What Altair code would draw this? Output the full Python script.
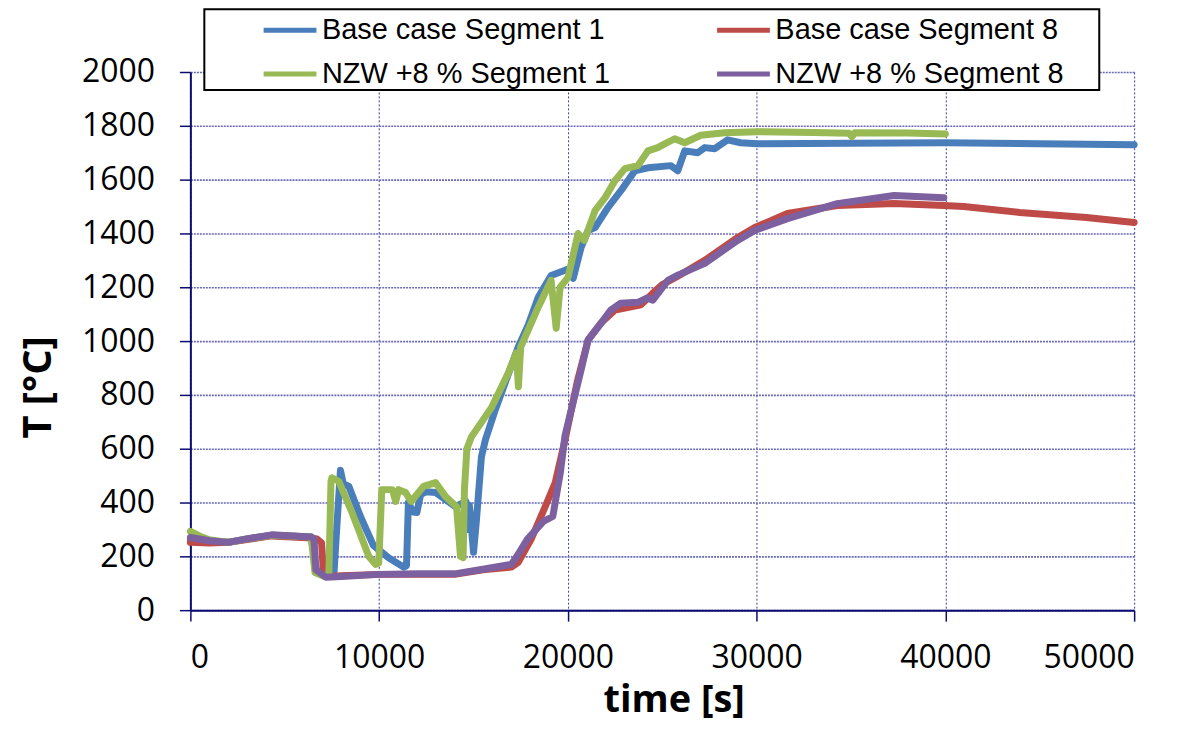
import altair as alt
import pandas as pd

series_names = ["Base case Segment 1", "Base case Segment 8",
                "NZW +8 % Segment 1", "NZW +8 % Segment 8"]
series_colors = ["#4a7ebb", "#be4b48", "#98b954", "#7d60a0"]

x_ticks = [0, 10000, 20000, 30000, 40000, 50000]
y_ticks = [0, 200, 400, 600, 800, 1000, 1200, 1400, 1600, 1800, 2000]

# Base case Segment 1 (blue)
bs1_t = [0, 1000, 2000, 3000, 4300, 6400, 6700, 7200, 7600, 7750, 7950, 8100, 8400,
         9000, 9700, 10500, 11300, 11450, 11550, 11800, 12000, 12200, 12500, 13000,
         14040, 14600, 14700, 14780, 14900, 15000, 15150, 15420, 15630, 16150, 16700,
         17370, 17900, 18430, 19110, 19850, 20100, 20280, 20700, 21070, 21440, 22120,
         22810, 23550, 24240, 25450, 25820, 26190, 26880, 27250, 27780, 28460, 29150,
         30040, 35000, 40000, 45000, 50000]
bs1_T = [262, 255, 252, 265, 278, 272, 140, 125, 128, 300, 520, 470, 460,
         350, 240, 195, 160, 165, 400, 365, 363, 430, 440, 437,
         385, 404, 300, 390, 300, 215, 330, 570, 633, 744, 850,
         978, 1060, 1163, 1244, 1263, 1270, 1233, 1348, 1411, 1422, 1496,
         1559, 1633, 1644, 1652, 1633, 1707, 1700, 1719, 1715, 1748, 1737,
         1733, 1735, 1737, 1733, 1730]

# Base case Segment 8 (red)
bs8_t = [0, 1000, 2000, 3000, 4300, 6400, 6700, 6950, 7050, 7300, 8000, 10000, 12000,
         14000, 15500, 17000, 17370, 18050, 18800, 19330, 19850, 20500, 21070, 21750,
         22490, 23870, 24500, 25000, 25800, 27250, 29000, 29900, 31630, 34270, 37280,
         39920, 40970, 43930, 47470, 50000]
bs8_T = [252, 250, 252, 262, 276, 268, 265, 250, 140, 125, 128, 133, 133,
         133, 150, 160, 178, 263, 385, 474, 633, 850, 1004, 1067,
         1115, 1135, 1178, 1210, 1240, 1300, 1385, 1422, 1474, 1504, 1511,
         1504, 1500, 1478, 1459, 1441]

# NZW +8 % Segment 1 (green)
nz1_t = [0, 500, 1000, 2000, 3000, 4300, 6400, 6600, 7100, 7340, 7450, 7500, 7870,
         8560, 9450, 9820, 9980, 10140, 10700, 10880, 11030, 11400, 11700, 12350,
         12990, 13520, 14100, 14310, 14450, 14520, 14650, 14890, 15950, 16840, 17270,
         17380, 17500, 18430, 19110, 19380, 19590, 20010, 20540, 20870, 21440, 21970,
         22490, 23020, 23710, 24240, 24760, 25130, 25660, 26190, 27040, 28300, 30040,
         33000, 34900, 35050, 35200, 38000, 40000]
nz1_T = [293, 275, 262, 252, 265, 278, 272, 140, 125, 140, 480, 492, 478,
         363, 200, 170, 175, 448, 448, 404, 448, 437, 404, 460,
         474, 422, 385, 200, 195, 450, 600, 644, 752, 881, 956,
         830, 978, 1126, 1226, 1048, 1200, 1237, 1400, 1374, 1485, 1533,
         1596, 1641, 1652, 1707, 1719, 1733, 1752, 1737, 1765, 1774, 1778,
         1775, 1772, 1760, 1774, 1773, 1770]

# NZW +8 % Segment 8 (purple)
nz8_t = [0, 1000, 2000, 3000, 4300, 6400, 6550, 6650, 7180, 8000, 10000, 12000,
         14000, 15500, 17000, 17300, 17850, 18700, 19200, 19600, 19850, 20700, 21070,
         21600, 22270, 22800, 23710, 24200, 24500, 25300, 25800, 27250, 28990, 29900,
         31630, 34270, 37280, 39920]
nz8_T = [270, 258, 252, 265, 280, 272, 265, 150, 122, 125, 133, 135,
         135, 152, 170, 200, 263, 330, 348, 511, 650, 893, 1004,
         1052, 1115, 1141, 1144, 1160, 1152, 1226, 1244, 1289, 1374, 1411,
         1455, 1511, 1541, 1533]

rows = []
for name, ts, Ts in zip(series_names, [bs1_t, bs8_t, nz1_t, nz8_t],
                        [bs1_T, bs8_T, nz1_T, nz8_T]):
    for i, (t, T) in enumerate(zip(ts, Ts)):
        rows.append({"series": name, "t": t, "T": T, "i": i})
df = pd.DataFrame(rows)

NAVY = "#0c0c70"
FONT = "Open Sans"

lines = alt.Chart(df).mark_line(strokeWidth=7, strokeJoin="round", strokeCap="round").encode(
    x=alt.X("t:Q", scale=alt.Scale(domain=[0, 50000], nice=False),
            axis=alt.Axis(values=x_ticks, title="time [s]", format="d",
                          titleX=485, titleY=102, titleBaseline="alphabetic",
                          titleAnchor="middle", titleAlign="center", titleFontSize=38)),
    y=alt.Y("T:Q", scale=alt.Scale(domain=[0, 2000], nice=False),
            axis=alt.Axis(values=y_ticks, title="T [°C]", format="d",
                          titleX=-152, titleY=316, titleAngle=-90,
                          titleBaseline="middle", titleAlign="center",
                          gridColor="#6a6ab4", gridWidth=1.6, gridDash=[2, 1])),
    color=alt.Color("series:N",
                    scale=alt.Scale(domain=series_names, range=series_colors),
                    legend=alt.Legend(title=None, orient="none", legendX=71, legendY=-71,
                                      direction="horizontal", columns=2, columnPadding=96,
                                      rowPadding=-15, symbolType="stroke", symbolSize=2809,
                                      symbolStrokeWidth=5, labelFontSize=29, labelFont="Liberation Sans",
                                      labelColor="black", labelLimit=0, labelOffset=3,
                                      padding=0)),
    order="i:Q",
)

frame = alt.Chart(pd.DataFrame({"a": [0]})).mark_rect(
    fill="white", stroke="black", strokeWidth=2
).encode(x=alt.value(14), x2=alt.value(912), y=alt.value(-63), y2=alt.value(18))

chart = alt.layer(lines, frame).properties(
    width=947, height=540,
    padding={"left": 183, "top": 63, "right": 43, "bottom": 111},
    autosize=alt.AutoSizeParams(type="none"),
    background="white",
).configure_view(stroke=None).configure_axis(
    domainColor=NAVY, domainWidth=2, tickColor=NAVY, tickWidth=1.5, tickSize=11,
    labelFont=FONT, labelFontSize=32, labelColor="black",
    titleFont=FONT, titleFontSize=40, titleFontWeight="bold", titleColor="black",
    gridColor="#3a3aa0", gridWidth=1, gridDash=[2, 2],
).configure_axisX(labelPadding=22).configure_axisY(labelPadding=25)

chart.save("out.html", embed_options={"renderer": "svg", "actions": False})
